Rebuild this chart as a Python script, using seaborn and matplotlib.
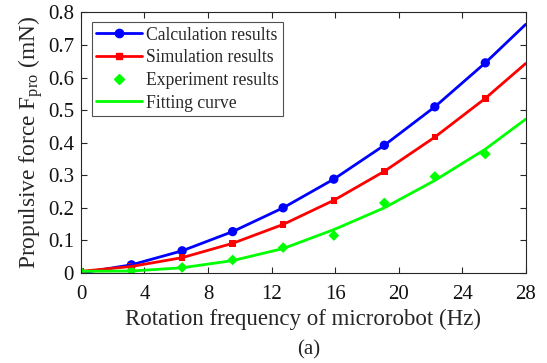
import numpy as np
import pandas as pd
import matplotlib
matplotlib.use('Agg')
import matplotlib.pyplot as plt
from matplotlib.lines import Line2D
import seaborn as sns

# measured frequencies (Hz) and curve end point
freq = [0, 3.18, 6.37, 9.55, 12.73, 15.92, 19.10, 22.28, 25.46]
freq_line = freq + [28]

calc = [0.0, 0.025, 0.068, 0.127, 0.200, 0.288, 0.392, 0.510, 0.645]
calc_end = 0.763
sim = [0.005, 0.020, 0.047, 0.091, 0.149, 0.223, 0.312, 0.417, 0.536]
sim_end = 0.643
expt = [0.003, 0.007, 0.017, 0.040, 0.078, 0.115, 0.215, 0.296, 0.365]
fit = [0.005, 0.006, 0.016, 0.038, 0.075, 0.133, 0.200, 0.284, 0.380, 0.472]

sns.set_style('ticks')
plt.rcParams['font.family'] = ['Liberation Serif', 'DejaVu Serif']
plt.rcParams['mathtext.fontset'] = 'custom'
plt.rcParams['mathtext.rm'] = 'Liberation Serif'

fig = plt.figure(figsize=(5.47, 3.63), dpi=100)
ax = fig.add_axes([0.148, 0.248, 0.813, 0.718])

lw = 2.0
sns.lineplot(x=freq_line, y=calc + [calc_end], color='#0000ff', lw=lw, ax=ax)
sns.lineplot(x=freq_line, y=sim + [sim_end], color='#ff0000', lw=lw, ax=ax)
sns.lineplot(x=freq_line, y=fit, color='#00ff00', lw=lw, ax=ax)
sns.scatterplot(x=freq, y=calc, color='#0000ff', marker='o', s=45, edgecolor='none', ax=ax)
sns.scatterplot(x=freq, y=sim, color='#ff0000', marker='s', s=22, edgecolor='none', ax=ax)
sns.scatterplot(x=freq, y=expt, color='#00ff00', marker='D', s=30, edgecolor='none', ax=ax)

ax.set_xlim(0, 28)
ax.set_ylim(0, 0.8)
ax.set_xticks(np.arange(0, 29, 4))
ax.set_yticks(np.arange(0, 0.81, 0.1))
ax.set_yticklabels(['0'] + [f'{v:.1f}' for v in np.arange(0.1, 0.81, 0.1)])

edge = '#262626'
for sp in ax.spines.values():
    sp.set_visible(True)
    sp.set_color(edge)
    sp.set_linewidth(0.8)
ax.tick_params(direction='in', top=True, right=True, length=4, width=0.8,
               color=edge, labelsize=15, labelcolor='#111111')
ax.tick_params(axis='y', pad=5)
ax.tick_params(axis='x', pad=9)

ax.set_xlabel('Rotation frequency of microrobot (Hz)', fontsize=16.5, labelpad=3)
ax.set_ylabel(r'Propulsive force F$_{\rm pro}$ (mN)', fontsize=16.8, labelpad=1)

handles = [
    Line2D([], [], color='#0000ff', lw=lw, marker='o', ms=6),
    Line2D([], [], color='#ff0000', lw=lw, marker='s', ms=4),
    Line2D([], [], color='#00ff00', lw=0, marker='D', ms=5),
    Line2D([], [], color='#00ff00', lw=lw),
]
labels = ['Calculation results', 'Simulation results', 'Experiment results', 'Fitting curve']
leg = ax.legend(handles, labels, loc='upper left', bbox_to_anchor=(0.024, 0.962),
                fontsize=12.7, frameon=True, fancybox=False, edgecolor=edge,
                handlelength=2.6, handletextpad=0.25, labelspacing=0.32,
                borderpad=0.25, borderaxespad=0)
leg.get_frame().set_linewidth(0.8)

fig.text(0.565, 0.035, '(a)', ha='center', va='center', fontsize=15)

fig.savefig('out.png', dpi=100)
